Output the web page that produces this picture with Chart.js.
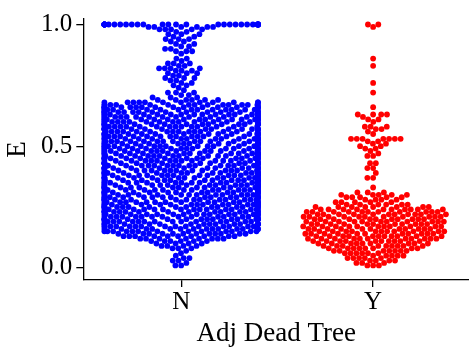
<!DOCTYPE html>
<html>
<head>
<meta charset="utf-8">
<script src="https://cdn.jsdelivr.net/npm/chart.js@4.4.1/dist/chart.umd.min.js"></script>
<style>
  html, body { margin: 0; padding: 0; background: #ffffff; overflow: hidden; }
  #wrap { width: 472px; height: 354px; }
</style>
</head>
<body>
<div id="wrap"><canvas id="c" width="472" height="354"></canvas></div>
<script>
// Categories on the x axis and the y tick values
const categories = ['N', 'Y'];
const yTicks = [0.0, 0.5, 1.0];

// E values (rounded to 0.01) and how many trees share each value, group "N"
const nValues = [1.00, 0.99, 0.98, 0.97, 0.96, 0.95, 0.94, 0.93, 0.92, 0.91, 0.90, 0.89, 0.88,
  0.86, 0.85, 0.84, 0.83, 0.82, 0.81, 0.80, 0.79, 0.78, 0.77, 0.76, 0.75, 0.74, 0.73, 0.72,
  0.71, 0.70, 0.69, 0.68, 0.67, 0.66, 0.65, 0.64, 0.63, 0.62, 0.61, 0.60, 0.59, 0.58, 0.57,
  0.56, 0.55, 0.54, 0.53, 0.52, 0.51, 0.50, 0.49, 0.48, 0.47, 0.46, 0.45, 0.44, 0.43, 0.42,
  0.41, 0.40, 0.39, 0.38, 0.37, 0.36, 0.35, 0.34, 0.33, 0.32, 0.31, 0.30, 0.29, 0.28, 0.27,
  0.26, 0.25, 0.24, 0.23, 0.22, 0.21, 0.20, 0.19, 0.18, 0.17, 0.16, 0.15, 0.14, 0.13, 0.12,
  0.11, 0.10, 0.09, 0.08, 0.07, 0.06, 0.05, 0.04, 0.03, 0.02, 0.01];
const nCounts = [31, 6, 5, 2, 3, 2, 3, 2, 2, 2, 2, 3, 1,
  2, 1, 3, 2, 4, 3, 3, 2, 3, 2, 2, 2, 1, 1, 3,
  2, 3, 6, 12, 15, 15, 15, 15, 15, 15, 15, 15, 15, 15, 15,
  15, 15, 15, 15, 15, 15, 15, 15, 15, 15, 15, 15, 15, 15, 15,
  15, 15, 15, 15, 15, 15, 15, 15, 15, 15, 15, 15, 15, 15, 15,
  15, 15, 15, 15, 15, 15, 15, 15, 15, 15, 14, 13, 12, 10, 8,
  6, 4, 4, 3, 1, 1, 1, 2, 2, 1, 2];

// E values and counts, group "Y"
const yValues = [1.00, 0.99, 0.86, 0.83, 0.76, 0.72, 0.66, 0.63, 0.62, 0.61, 0.60, 0.58, 0.57,
  0.56, 0.55, 0.53, 0.52, 0.51, 0.50, 0.49, 0.48, 0.47, 0.46, 0.43, 0.41, 0.39, 0.37, 0.33,
  0.31, 0.30, 0.29, 0.28, 0.27, 0.26, 0.25, 0.24, 0.23, 0.22, 0.21, 0.20, 0.19, 0.18, 0.17,
  0.16, 0.15, 0.14, 0.13, 0.12, 0.11, 0.10, 0.09, 0.08, 0.07, 0.06, 0.05, 0.04, 0.03, 0.02, 0.01];
const yCounts = [2, 1, 1, 1, 1, 1, 1, 4, 1, 2, 1, 3, 2,
  1, 1, 7, 2, 2, 2, 2, 1, 1, 2, 2, 2, 1, 2, 1,
  3, 5, 5, 4, 5, 6, 8, 10, 11, 11, 11, 11, 11, 11, 11,
  11, 11, 11, 11, 11, 10, 9, 9, 8, 7, 6, 5, 5, 4, 3, 3];

const groupColors = ['#0000ff', '#ff0000'];
const FONT = "'Liberation Serif', 'Times New Roman', serif";
const MARK_R = 2.9;      // drawn marker radius (px)
const SWARM_R = 2.75;    // radius used for the swarm collision layout (px)
const HALF_WIDTH = 0.4;  // half of the category band width, in x units

// Expand a (value, count) table into one entry per observation
function expand(values, counts) {
  const out = [];
  values.forEach((v, i) => { for (let k = 0; k < counts[i]; k++) out.push(v); });
  return out;
}

const groups = [expand(nValues, nCounts), expand(yValues, yCounts)];

// Beeswarm placement in pixel space: points are added from the lowest value upward and
// each goes to the candidate closest to the centre line that overlaps nothing.
function swarmOffsets(values, toPixelY, r) {
  const d = 2 * r;
  const order = values.map((_, i) => i).sort((a, b) => values[a] - values[b]);
  const placed = [];
  const offsets = new Array(values.length).fill(0);
  for (const i of order) {
    const y = toPixelY(values[i]);
    const nb = [];
    for (let k = placed.length - 1; k >= 0; k--) {
      if (Math.abs(placed[k].y - y) < d) nb.push(placed[k]); else break;
    }
    const cands = [0];
    let leftFirst = true;
    for (const p of nb) {
      const dy = y - p.y;
      const dx = Math.sqrt(Math.max(d * d - dy * dy, 0)) * 1.05;
      if (leftFirst) cands.push(p.x - dx, p.x + dx); else cands.push(p.x + dx, p.x - dx);
      leftFirst = !leftFirst;
    }
    cands.sort((a, b) => Math.abs(a) - Math.abs(b));
    let chosen = cands[cands.length - 1];
    for (const c of cands) {
      let ok = true;
      for (const p of nb) {
        const ddx = p.x - c, ddy = p.y - y;
        if (ddx * ddx + ddy * ddy < d * d - 1e-9) { ok = false; break; }
      }
      if (ok) { chosen = c; break; }
    }
    placed.push({ x: chosen, y: y });
    offsets[i] = chosen;
  }
  return offsets;
}

const ctx = document.getElementById('c').getContext('2d');
const chart = new Chart(ctx, {
  type: 'scatter',
  data: {
    datasets: groups.map((vals, g) => ({
      label: categories[g],
      data: vals.map(v => ({ x: g, y: v })),
      backgroundColor: groupColors[g],
      borderWidth: 0,
      pointRadius: MARK_R,
      pointHoverRadius: MARK_R
    }))
  },
  options: {
    responsive: false,
    animation: false,
    events: [],
    layout: { padding: { top: 18, left: 0, right: 0, bottom: 0 } },
    plugins: { legend: { display: false }, tooltip: { enabled: false } },
    scales: {
      x: {
        type: 'linear',
        min: -0.51,
        max: 1.5,
        afterBuildTicks: s => { s.ticks = categories.map((_, i) => ({ value: i })); },
        afterFit: s => { s.height = 74; },
        ticks: {
          callback: v => categories[v],
          font: { family: FONT, size: 25 },
          color: '#000',
          padding: 0,
          maxRotation: 0,
          autoSkip: false
        },
        grid: { drawOnChartArea: false, drawTicks: true, tickLength: 7, color: '#000', lineWidth: 1.3 },
        border: { display: true, color: '#000', width: 1.3 },
        title: {
          display: true, text: 'Adj Dead Tree', color: '#000',
          font: { family: FONT, size: 27 }, padding: { top: 0, bottom: 4 }
        }
      },
      y: {
        min: -0.05,
        max: 1.0225,
        afterBuildTicks: s => { s.ticks = yTicks.map(v => ({ value: v })); },
        afterFit: s => { s.width = 83.3; },
        ticks: {
          callback: v => Number(v).toFixed(1),
          font: { family: FONT, size: 25 },
          color: '#000',
          padding: 4
        },
        grid: { drawOnChartArea: false, drawTicks: true, tickLength: 7, color: '#000', lineWidth: 1.3 },
        border: { display: true, color: '#000', width: 1.3 },
        title: {
          display: true, text: 'E', color: '#000',
          font: { family: FONT, size: 27 }, padding: { top: 2, bottom: 0 }
        }
      }
    }
  }
});

// Lay out the swarms with the chart's own scales, then redraw
(function layoutSwarms() {
  const xs = chart.scales.x, ys = chart.scales.y;
  const pxPerUnit = xs.getPixelForValue(1) - xs.getPixelForValue(0);
  groups.forEach((vals, g) => {
    const offs = swarmOffsets(vals, v => ys.getPixelForValue(v), SWARM_R);
    chart.data.datasets[g].data = vals.map((v, i) => {
      let dx = offs[i] / pxPerUnit;
      if (Math.abs(dx) > HALF_WIDTH) dx = Math.sign(dx) * HALF_WIDTH;
      return { x: g + dx, y: v };
    });
  });
  chart.update('none');
})();
</script>
</body>
</html>
